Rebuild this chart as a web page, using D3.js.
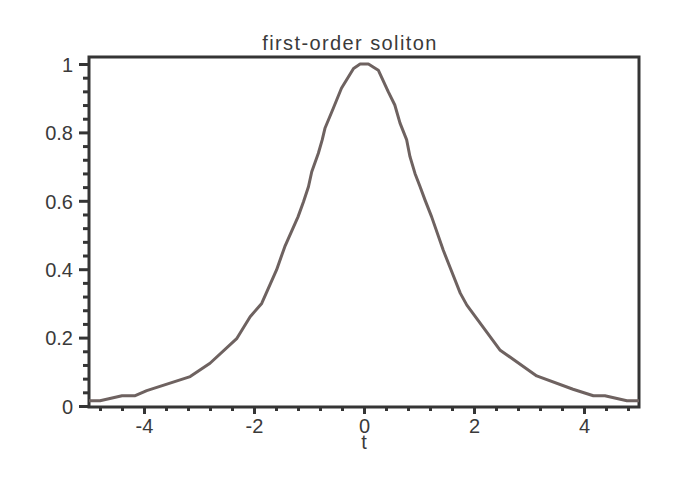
<!DOCTYPE html>
<html>
<head>
<meta charset="utf-8">
<script src="https://cdn.jsdelivr.net/npm/d3@7"></script>
<style>
  body { margin: 0; background: #fff; }
  text { font-family: "Liberation Sans", Arial, sans-serif; fill: #3a3a3a; }
</style>
</head>
<body>
<div id="chart"></div>
<script>
// values
let tValues = [-5, -4.8, -4.4, -4.16, -3.95, -3.16, -2.8, -2.31, -2.07, -1.86, -1.59, -1.44, -1.2, -1.1, -1.01,
    -0.95, -0.83, -0.76, -0.71, -0.56, -0.41, -0.19, -0.07, 0.08, 0.26, 0.44, 0.56, 0.655, 0.776, 0.836,
    0.927, 1.02, 1.11, 1.23, 1.44, 1.56, 1.75, 1.87, 2.47, 3.14, 3.8, 4.17, 4.38, 4.78, 5]
let uValues = [0.0155, 0.0155, 0.03, 0.03, 0.045, 0.086, 0.125, 0.198, 0.261, 0.3, 0.398, 0.466, 0.553, 0.597, 0.641,
    0.685, 0.739, 0.778, 0.812, 0.87, 0.929, 0.987, 1, 1, 0.982, 0.919, 0.88, 0.827, 0.778, 0.729,
    0.68, 0.641, 0.602, 0.553, 0.456, 0.407, 0.33, 0.295, 0.164, 0.088, 0.049, 0.03, 0.03, 0.0155, 0.0155]
let xMajor = [-4, -2, 0, 2, 4]
let yMajor = [0, 0.2, 0.4, 0.6, 0.8, 1]
let yLabels = ["0", "0.2", "0.4", "0.6", "0.8", "1"]
let title = "first-order soliton"
let xTitle = "t"

let width = 673
let height = 487
let axisColor = "#353535"

let svg = d3.select("#chart")
    .append("svg")
    .attr("width", width)
    .attr("height", height)

let x = d3.scaleLinear().domain([-5, 5]).range([89, 639])
let y = d3.scaleLinear().domain([0, 1]).range([406, 64])

let xMinor = d3.range(-4.8, 4.9, 0.4).filter(d => Math.abs(d / 2 - Math.round(d / 2)) > 0.01)
let yMinor = d3.range(0.04, 1, 0.04).filter(d => Math.abs(d * 5 - Math.round(d * 5)) > 0.01)

// minor ticks first, majors on top
let gxMinor = svg.append("g")
    .attr("transform", "translate(0,408)")
    .call(d3.axisBottom(x).tickValues(xMinor).tickSize(3).tickFormat(""))
let gxMajor = svg.append("g")
    .attr("transform", "translate(0,408)")
    .call(d3.axisBottom(x).tickValues(xMajor).tickSize(6).tickFormat(d => String(d)))
let gyMinor = svg.append("g")
    .attr("transform", "translate(88,0)")
    .call(d3.axisLeft(y).tickValues(yMinor).tickSize(5).tickFormat(""))
let gyMajor = svg.append("g")
    .attr("transform", "translate(88,0)")
    .call(d3.axisLeft(y).tickValues(yMajor).tickSize(9).tickFormat((d, i) => yLabels[i]))

svg.selectAll(".domain").remove()
svg.selectAll(".tick line")
    .attr("stroke", axisColor)
    .attr("stroke-width", 3)

gxMajor.selectAll("text")
    .attr("y", 25)
    .attr("dy", 0)
    .style("font-size", "20px")
    .style("font-family", "'Liberation Sans', Arial, sans-serif")
    .attr("fill", "#3a3a3a")
gyMajor.selectAll("text")
    .attr("x", -15)
    .attr("dy", "0.36em")
    .style("font-size", "20px")
    .style("font-family", "'Liberation Sans', Arial, sans-serif")
    .attr("fill", "#3a3a3a")

// boxed frame
svg.append("rect")
    .attr("x", x(-5))
    .attr("y", 57)
    .attr("width", x(5) - x(-5))
    .attr("height", 407 - 57)
    .attr("fill", "none")
    .attr("stroke", axisColor)
    .attr("stroke-width", 3)

let line = d3.line()
    .x((d, i) => x(tValues[i]))
    .y((d, i) => y(uValues[i]))

svg.append("path")
    .datum(tValues)
    .attr("d", line)
    .attr("fill", "none")
    .attr("stroke", "#6e6260")
    .attr("stroke-width", 3)
    .attr("stroke-linejoin", "round")

svg.append("text")
    .attr("x", 350)
    .attr("y", 50)
    .attr("text-anchor", "middle")
    .style("font-size", "20px")
    .style("letter-spacing", "1.4px")
    .text(title)

svg.append("text")
    .attr("x", x(0))
    .attr("y", 449)
    .attr("text-anchor", "middle")
    .style("font-size", "20px")
    .text(xTitle)
</script>
</body>
</html>
